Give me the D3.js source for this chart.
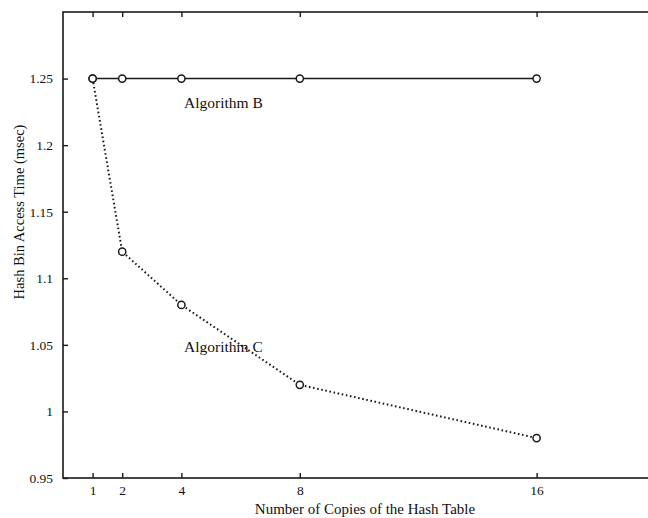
<!DOCTYPE html>
<html><head><meta charset="utf-8">
<script src="https://cdn.jsdelivr.net/npm/d3@7"></script>
<style>body{margin:0;background:#fff}svg{display:block}text{font-family:"Liberation Serif","Times New Roman",serif;fill:#111}</style>
</head><body>
<svg id="c" width="648" height="518"></svg>
<script>
const copies = [1, 2, 4, 8, 16];
const algB = [1.25, 1.25, 1.25, 1.25, 1.25];
const algC = [1.25, 1.12, 1.08, 1.02, 0.98];
const xTicks = [1, 2, 4, 8, 16];
const yTicks = [0.95, 1, 1.05, 1.1, 1.15, 1.2, 1.25];

const svg = d3.select("#c");
const x = d3.scaleLinear().domain([0, 20]).range([63, 655]);
const y = d3.scaleLinear().domain([0.95, 1.3]).range([478, 12]);
const ink = "#1a1a1a";

// frame
svg.append("rect").attr("x", x(0)).attr("y", y(1.3)).attr("width", x(20)-x(0)).attr("height", y(0.95)-y(1.3))
  .attr("fill", "none").attr("stroke", ink).attr("stroke-width", 1.6);

// axes
const fmtY = d => d3.format("")(d);
const gx = svg.append("g").attr("transform", `translate(0,${y(0.95)})`)
  .call(d3.axisBottom(x).tickValues(xTicks).tickSizeInner(-5).tickSizeOuter(0).tickPadding(7).tickFormat(d3.format("d")));
const gxt = svg.append("g").attr("transform", `translate(0,${y(1.3)})`)
  .call(d3.axisTop(x).tickValues(xTicks).tickSizeInner(-5).tickSizeOuter(0).tickFormat(""));
const gy = svg.append("g").attr("transform", `translate(${x(0)},0)`)
  .call(d3.axisLeft(y).tickValues(yTicks).tickSizeInner(-5).tickSizeOuter(0).tickPadding(10).tickFormat(fmtY));
[gx, gxt, gy].forEach(g => {
  g.select(".domain").remove();
  g.selectAll(".tick line").attr("stroke", ink).attr("stroke-width", 1.4);
  g.selectAll(".tick text").attr("font-size", 13.5).attr("fill", ink).style("font-family", '"Liberation Serif", serif');
});
gx.selectAll(".tick text").attr("dy", "0.71em");

// lines
const line = d3.line().x(d => x(d[0])).y(d => y(d[1]));
const dB = copies.map((c, i) => [c, algB[i]]);
const dC = copies.map((c, i) => [c, algC[i]]);
svg.append("path").datum(dB).attr("d", line).attr("fill", "none").attr("stroke", ink).attr("stroke-width", 1.5);
svg.append("path").datum(dC).attr("d", line).attr("fill", "none").attr("stroke", ink).attr("stroke-width", 2)
  .attr("stroke-dasharray", "1.6,2.6").attr("stroke-linecap", "butt");

[dB, dC].forEach(data => {
  svg.append("g").selectAll("circle").data(data).join("circle")
    .attr("cx", d => x(d[0])).attr("cy", d => y(d[1])).attr("r", 3.6)
    .attr("fill", "#fff").attr("stroke", ink).attr("stroke-width", 1.5);
});

// labels
svg.append("text").attr("x", 184).attr("y", 108).attr("font-size", 15.5).text("Algorithm B");
svg.append("text").attr("x", 184).attr("y", 352).attr("font-size", 15.5).text("Algorithm C");

svg.append("text").attr("x", 365).attr("y", 514).attr("text-anchor", "middle").attr("font-size", 15)
  .text("Number of Copies of the Hash Table");
svg.append("text").attr("transform", "translate(24,212) rotate(-90)").attr("text-anchor", "middle").attr("font-size", 14.5)
  .text("Hash Bin Access Time (msec)");
</script>
</body></html>
